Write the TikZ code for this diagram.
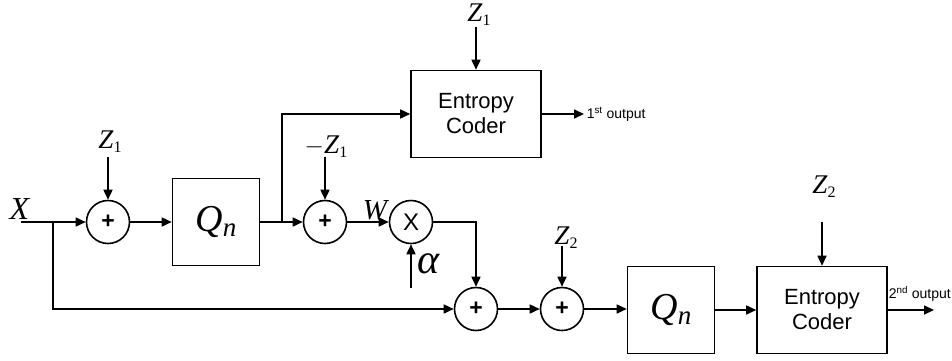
\documentclass[tikz,border=0pt]{standalone}
\usepackage{fontspec}
\setmainfont{Liberation Serif}
\setsansfont{Liberation Sans}
\usetikzlibrary{arrows.meta}
\newcommand{\lbl}[2]{\textit{#1}\raisebox{-0.3ex}{\fontsize{16}{16}\selectfont #2}}
\begin{document}
\begin{tikzpicture}[x=1pt,y=-1pt,line width=1.6pt,
  >={Triangle[length=10pt,width=9pt]},
  sumnode/.style={draw,circle,minimum size=43pt,inner sep=0pt,font=\sffamily\bfseries\fontsize{23}{23}\selectfont},
  blockbox/.style={draw,rectangle,minimum width=87pt,minimum height=87pt,inner sep=0pt},
  coderbox/.style={draw,rectangle,minimum width=130pt,minimum height=87pt,inner sep=0pt,align=center,font=\sffamily\fontsize{22}{25}\selectfont},
  mathlbl/.style={inner sep=0pt,font=\fontsize{27}{27}\selectfont},
  outlbl/.style={inner sep=0pt,font=\sffamily\fontsize{14}{14}\selectfont}]
\useasboundingbox (0,0) rectangle (952,360);
% nodes
\node[sumnode] (s1) at (108,222) {+};
\node[blockbox,font=\fontsize{38}{38}\selectfont] (q1) at (216,222) {\textit{Q}\raisebox{-0.3ex}{\fontsize{27}{27}\selectfont\itshape n}};
\node[sumnode] (s2) at (325,222) {+};
\node[sumnode,font=\sffamily\fontsize{24}{24}\selectfont] (m) at (411,222) {X};
\node[sumnode] (s3) at (476,309) {+};
\node[sumnode] (s4) at (562,309) {+};
\node[blockbox,font=\fontsize{38}{38}\selectfont] (q2) at (671,310) {\textit{Q}\raisebox{-0.3ex}{\fontsize{27}{27}\selectfont\itshape n}};
\node[coderbox] (ec1) at (476,114) {Entropy\\Coder};
\node[coderbox] (ec2) at (822,310) {Entropy\\Coder};
% labels
\node[mathlbl,font=\fontsize{32}{32}\selectfont] (xl) at (20,209) {\textit{X}};
\node[mathlbl] (z1a) at (110,142) {\lbl{Z}{1}};
\node[mathlbl] (z1b) at (479,15) {\lbl{Z}{1}};
\node[mathlbl] (mz1) at (326,147) {$-$\lbl{Z}{1}};
\node[mathlbl,font=\fontsize{29}{29}\selectfont] (wl) at (376,210) {\textit{W}};
\node[mathlbl,font=\fontsize{42}{42}\selectfont] (al) at (429,264) {\textit{α}};
\node[mathlbl] (z2a) at (566,238) {\lbl{Z}{2}};
\node[mathlbl] (z2b) at (824,187) {\lbl{Z}{2}};
\node[outlbl,anchor=west] (o1) at (586,114) {1\textsuperscript{st} output};
\node[outlbl,anchor=south west] (o2) at (888,302) {2\textsuperscript{nd} output};
% coordinates
\coordinate (in) at (21,222);
\coordinate (bx) at (53,222);
\coordinate (by) at (282,222);
\coordinate (z1at) at (108,157);
\coordinate (z1bt) at (476,27);
\coordinate (mz1t) at (325,157);
\coordinate (alt) at (411,288);
\coordinate (z2at) at (562,246);
\coordinate (z2bt) at (822,222);
\coordinate (out1) at (584,114);
\coordinate (out2) at (934,310);
% connectors
\draw[->] (in) -- (s1);
\draw[->] (bx) |- (s3);
\draw[->] (z1at) -- (s1);
\draw[->] (s1) -- (q1);
\draw[->] (q1) -- (s2);
\draw[->] (by) |- (ec1);
\draw[->] (mz1t) -- (s2);
\draw[->] (s2) -- (m);
\draw[->] (alt) -- (m);
\draw[->] (m) -| (s3);
\draw[->] (s3) -- (s4);
\draw[->] (z2at) -- (s4);
\draw[->] (s4.east) -- (q2.west |- s4.east);
\draw[->] (q2) -- (ec2);
\draw[->] (z2bt) -- (ec2);
\draw[->] (ec2) -- (out2);
\draw[->] (z1bt) -- (ec1);
\draw[->] (ec1) -- (out1);
\end{tikzpicture}
\end{document}
